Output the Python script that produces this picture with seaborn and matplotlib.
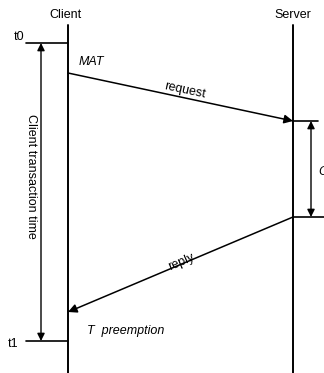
import matplotlib
matplotlib.use("Agg")
import matplotlib.pyplot as plt
import seaborn as sns
import pandas as pd

# ==========================================================
# DATA (diagram coordinates, pixel space of the 324x373 figure)
# ==========================================================

lifeline_names = ["Client", "Server"]
lifeline_x = [68, 293]
lifeline_top = [25, 25]
lifeline_bottom = [373, 373]

# time markers on the client side
marker_labels = ["t0", "t1"]
marker_y = [43, 341]

# messages: (start x, start y) -> (end x, end y)
message_labels = ["request", "reply"]
message_x0 = [68, 293]
message_y0 = [73, 217]
message_x1 = [293, 68]
message_y1 = [121, 312]

# server side interval
server_interval_y = [121, 217]

sns.set_theme(style="white")
plt.rcParams["font.family"] = ["Liberation Sans", "DejaVu Sans"]
plt.rcParams["text.color"] = "black"

FS = 9

fig = plt.figure(figsize=(3.24, 3.73), dpi=100)
ax = fig.add_axes([0, 0, 1, 1])
ax.set_xlim(0, 324)
ax.set_ylim(373, 0)
ax.axis("off")

# lifelines
lines = pd.DataFrame({
    "x": lifeline_x + lifeline_x,
    "y": lifeline_top + lifeline_bottom,
    "name": lifeline_names + lifeline_names,
})
sns.lineplot(data=lines, x="x", y="y", units="name", estimator=None,
             sort=False, color="black", lw=1.4, ax=ax)
for name, x in zip(lifeline_names, lifeline_x):
    ax.text(x - 3 if name == "Client" else x, 15, name,
            ha="center", va="center", fontsize=FS)

# t0 / t1 markers
marker_text = [(19, 37), (13, 344)]
for lab, y, (tx, ty) in zip(marker_labels, marker_y, marker_text):
    ax.plot([26, lifeline_x[0]], [y, y], color="black", lw=1.2)
    ax.text(tx, ty, lab, ha="center", va="center", fontsize=FS)

# client transaction time double arrow
ax.annotate("", xy=(41, marker_y[0]), xytext=(41, marker_y[1]),
            arrowprops=dict(arrowstyle="<|-|>", color="black", lw=1.0,
                            mutation_scale=11, shrinkA=0, shrinkB=0))
ax.text(31, 176, "Client transaction time", rotation=-90,
        ha="center", va="center", fontsize=FS)

# messages
rot = [-12, 23]
text_pos = [(185, 90), (181, 262)]
for i, lab in enumerate(message_labels):
    ax.annotate("", xy=(message_x1[i], message_y1[i]),
                xytext=(message_x0[i], message_y0[i]),
                arrowprops=dict(arrowstyle="-|>", color="black", lw=1.1,
                                mutation_scale=13, shrinkA=0, shrinkB=0))
    ax.text(text_pos[i][0], text_pos[i][1], lab, rotation=rot[i],
            ha="center", va="center", fontsize=FS)

# server interval
ax.plot([lifeline_x[1], 318], [server_interval_y[0]] * 2, color="black", lw=1.2)
ax.plot([lifeline_x[1], 324], [server_interval_y[1]] * 2, color="black", lw=1.2)
ax.annotate("", xy=(311, server_interval_y[0]), xytext=(311, server_interval_y[1]),
            arrowprops=dict(arrowstyle="<|-|>", color="black", lw=1.0,
                            mutation_scale=11, shrinkA=0, shrinkB=0))
ax.text(318, 172, "C", style="italic", ha="left", va="center", fontsize=FS)

# annotations
ax.text(79, 62, "MAT", style="italic", ha="left", va="center", fontsize=FS)
ax.text(87, 331, "T  preemption", style="italic", ha="left", va="center", fontsize=FS)

fig.savefig("out.png", dpi=100)
plt.close(fig)
